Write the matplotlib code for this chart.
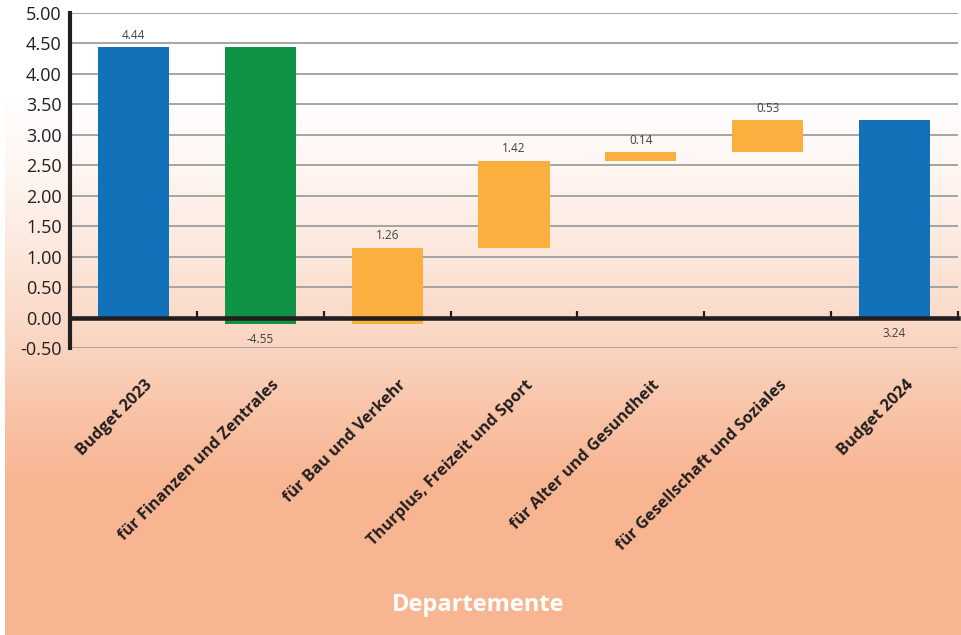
import numpy as np
import matplotlib.pyplot as plt
import matplotlib.transforms as mtransforms
from matplotlib.colors import to_rgb

plt.rcParams['font.family'] = ['Open Sans', 'DejaVu Sans']

categories = ['Budget 2023', 'für Finanzen und Zentrales', 'für Bau und Verkehr',
              'Thurplus, Freizeit und Sport', 'für Alter und Gesundheit',
              'für Gesellschaft und Soziales', 'Budget 2024']
# first and last are totals, the rest are changes
values = [4.44, -4.55, 1.26, 1.42, 0.14, 0.53, 3.24]
yticks = [-0.5, 0, 0.5, 1, 1.5, 2, 2.5, 3, 3.5, 4, 4.5, 5]

BLUE = '#1172BA'
GREEN = '#0F9345'
ORANGE = '#FBAF3F'
DARK = '#231F20'

# waterfall bottoms / heights
bottoms, heights, colors = [], [], []
running = 0.0
for i, v in enumerate(values):
    if i == 0 or i == len(values) - 1:
        bottoms.append(0)
        heights.append(v)
        colors.append(BLUE)
        running = v
    else:
        bottoms.append(running)
        heights.append(v)
        colors.append(GREEN if v < 0 else ORANGE)
        running += v

fig = plt.figure(figsize=(9.61, 6.35), dpi=100)
fig.patch.set_facecolor('white')

# background gradient
bg = fig.add_axes([5 / 961, 0, 956 / 961, 1], zorder=0)
stops = [(0, '#FFFFFF'), (95, '#FFFFFF'), (170, '#FEF6F1'), (260, '#FCE6DA'),
         (340, '#FAD6C3'), (410, '#F9C4A8'), (480, '#F8B592'), (635, '#F8B592')]
ys = np.arange(635)
col = np.array([[np.interp(y, [s[0] for s in stops], [to_rgb(s[1])[k] for s in stops])
                 for k in range(3)] for y in ys])
bg.imshow(col[:, None, :], aspect='auto', extent=[0, 1, 1, 0])
bg.axis('off')

ax = fig.add_axes([70 / 961, 1 - 348 / 635, 888 / 961, 335 / 635], zorder=1)
ax.set_facecolor('none')

x = np.arange(len(categories))
ax.bar(x, heights, bottom=bottoms, width=0.56, color=colors, zorder=3)

# value labels
for i, v in enumerate(values):
    top = bottoms[i] + max(heights[i], 0)
    bot = bottoms[i] + min(heights[i], 0)
    if i == len(values) - 1:
        ax.annotate(f'{v:.2f}', (i, 0), xytext=(0, -7), textcoords='offset points',
                    ha='center', va='top', fontsize=8.5, color='#404040')
    elif v < 0:
        ax.annotate(f'{v:.2f}', (i, bot), xytext=(0, -6), textcoords='offset points',
                    ha='center', va='top', fontsize=8.5, color='#404040')
    else:
        ax.annotate(f'{v:.2f}', (i, top), xytext=(0, 4), textcoords='offset points',
                    ha='center', va='bottom', fontsize=8.5, color='#404040')

ax.set_xlim(-0.5, len(categories) - 0.5)
ax.set_ylim(-0.5, 5.0)
ax.set_yticks(yticks)
ax.set_yticklabels([f'{t:.2f}' for t in yticks], fontsize=13, color=DARK)
ax.yaxis.grid(True, color='#9E9E9E', linewidth=1.3, zorder=1)
ax.set_axisbelow(True)

for s in ['top', 'right']:
    ax.spines[s].set_visible(False)
ax.spines['left'].set_linewidth(3)
ax.spines['left'].set_color(DARK)
ax.spines['bottom'].set_position(('data', 0))
ax.spines['bottom'].set_linewidth(3.3)
ax.spines['bottom'].set_color(DARK)
ax.spines['bottom'].set_zorder(4)
ax.tick_params(axis='y', length=0, pad=6)
ax.set_xticks([])
ax.set_xticks(x + 0.5, minor=True)
ax.tick_params(axis='x', which='minor', direction='in', length=5, width=1.6, color=DARK)

# category labels
trans = mtransforms.blended_transform_factory(ax.transData, ax.transAxes)
trans = mtransforms.offset_copy(trans, fig=fig, x=11, y=-29, units='dots')
for i, c in enumerate(categories):
    ax.text(i, 0, c, transform=trans, rotation=45, rotation_mode='anchor',
            ha='right', va='top', fontsize=11.8, fontweight='bold', color=DARK)

fig.text(478 / 961, 1 - 605 / 635, 'Departemente', ha='center', va='center',
         fontsize=17, fontweight='bold', color='white')

plt.savefig('out.png', dpi=100)
